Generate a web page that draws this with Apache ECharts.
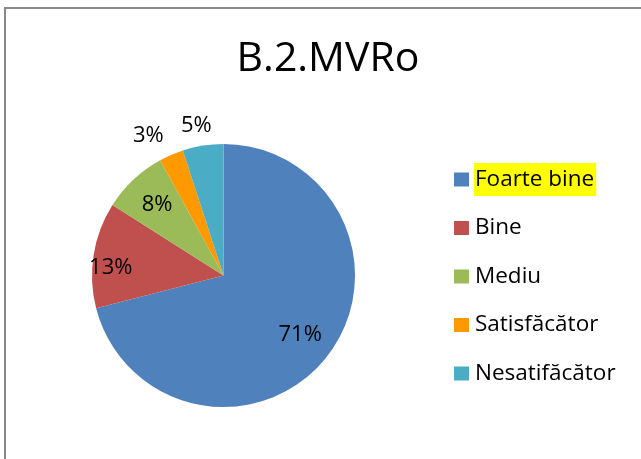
<!DOCTYPE html>
<html>
<head>
<meta charset="utf-8">
<script src="https://cdn.jsdelivr.net/npm/echarts@6/dist/echarts.min.js"></script>
<style>
html, body { margin: 0; padding: 0; background: #fff; }
#chart { width: 641px; height: 459px; }
</style>
</head>
<body>
<div id="chart"></div>
<script>
// data
var title = 'B.2.MVRo';
var categories = ['Foarte bine', 'Bine', 'Mediu', 'Satisfăcător', 'Nesatifăcător'];
var values = [71, 13, 8, 3, 5];
var colors = ['#4F81BD', '#C0504D', '#9BBB59', '#FF9900', '#4BACC6'];

var font = 'Open Sans';
var center = [223.5, 275.5];
var pieRadius = 131.5;

// transparent overlay pies only used to place the % labels where Excel put them
// (radius sets the distance, turn nudges the angle a little, + = counter-clockwise)
function labelPie(radius, which, turn) {
    return {
        type: 'pie',
        center: center,
        radius: [0, radius],
        startAngle: 90 + turn,
        silent: true,
        emphasis: { disabled: true },
        itemStyle: { color: 'rgba(0,0,0,0)', borderWidth: 0 },
        label: {
            position: 'inside',
            formatter: '{c}%',
            color: '#000',
            fontFamily: font,
            fontSize: 22
        },
        labelLine: { show: false },
        data: categories.map(function (c, i) {
            return { name: c, value: values[i], label: { show: which.indexOf(i) >= 0 } };
        })
    };
}

var chart = echarts.init(document.getElementById('chart'));
chart.setOption({
    animation: false,
    color: colors,
    title: {
        text: title,
        left: 323,
        top: 34,
        textAlign: 'center',
        textStyle: { fontFamily: font, fontSize: 41, fontWeight: 'normal', color: '#000' }
    },
    legend: {
        orient: 'vertical',
        left: 454,
        top: 163,
        padding: 0,
        itemGap: 15.5,
        itemWidth: 15,
        itemHeight: 14,
        icon: 'rect',
        selectedMode: false,
        textStyle: { fontFamily: font, fontSize: 22.5, color: '#000', lineHeight: 25, padding: [4, 2, 4, 1] },
        data: categories.map(function (c, i) {
            return i === 0 ? { name: c, textStyle: { backgroundColor: '#FFFF00' } } : { name: c };
        })
    },
    graphic: [{
        type: 'rect',
        shape: { x: 5, y: 8, width: 700, height: 500 },
        style: { fill: 'none', stroke: '#898989', lineWidth: 2 },
        silent: true
    }],
    series: [
        {
            type: 'pie',
            center: center,
            radius: [0, pieRadius],
            startAngle: 90,
            label: { show: false },
            labelLine: { show: false },
            itemStyle: { borderWidth: 0 },
            data: categories.map(function (c, i) { return { name: c, value: values[i] }; })
        },
        labelPie(188, [0, 2], 0),
        labelPie(220, [1], 5),
        labelPie(312, [3], 4.8),
        labelPie(298, [4], 1.3)
    ]
});
</script>
</body>
</html>
